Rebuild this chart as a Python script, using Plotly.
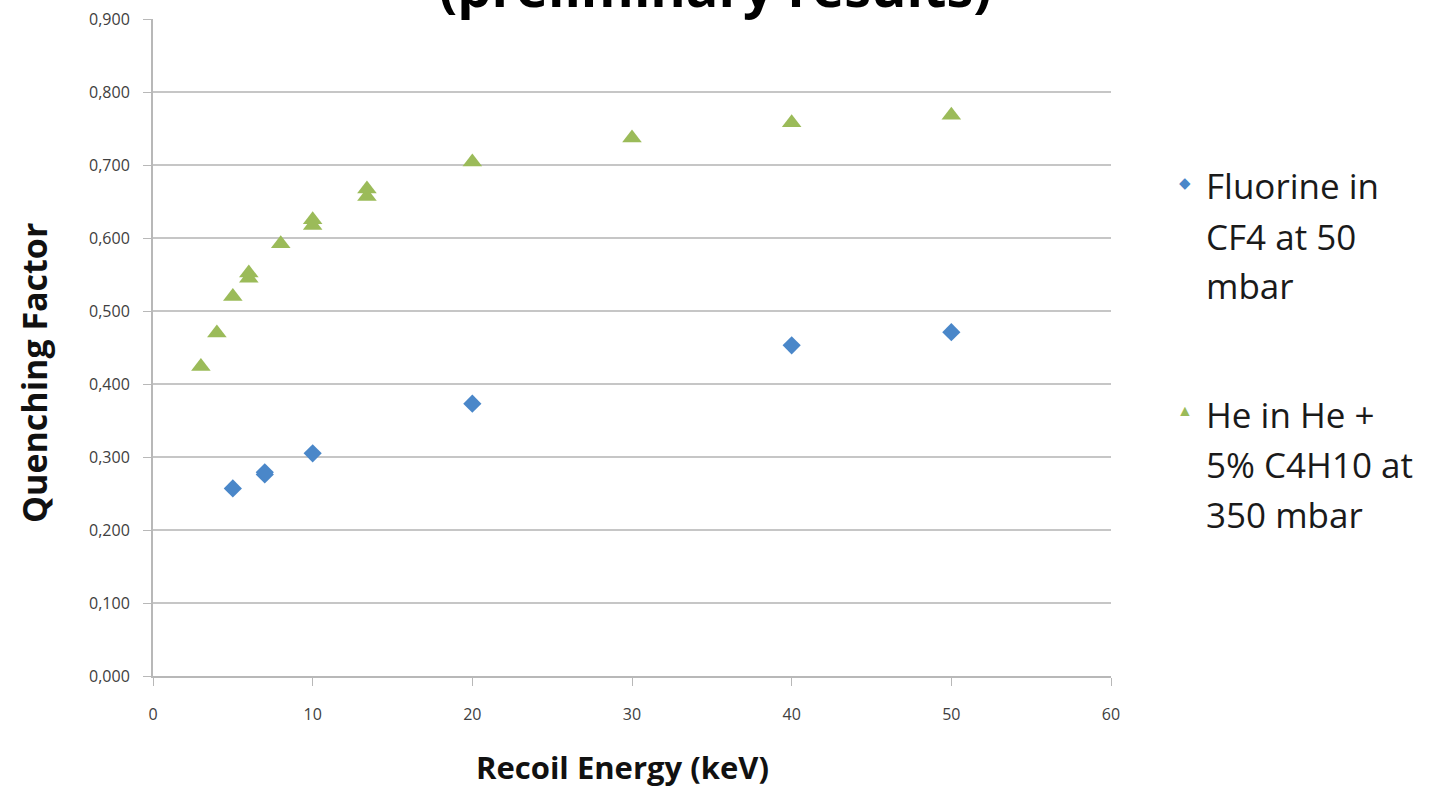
import plotly.graph_objects as go

# Fluorine recoils in CF4 at 50 mbar
f_energy = [5, 7, 7, 10, 20, 40, 50]
f_qf = [0.257, 0.276, 0.279, 0.305, 0.373, 0.453, 0.471]

# Helium recoils in He + 5% C4H10 at 350 mbar
he_energy = [3, 4, 5, 6, 6, 8, 10, 10, 13.4, 13.4, 20, 30, 40, 50]
he_qf = [0.424, 0.470, 0.520, 0.545, 0.552, 0.592, 0.617, 0.625, 0.657, 0.667, 0.704, 0.737, 0.758, 0.768]

x_ticks = [0, 10, 20, 30, 40, 50, 60]
y_ticks = [0.0, 0.1, 0.2, 0.3, 0.4, 0.5, 0.6, 0.7, 0.8, 0.9]
y_ticklabels = [f"{v:.3f}".replace(".", ",") for v in y_ticks]

legend_f = ["Fluorine in", "CF4 at 50", "mbar"]
legend_he = ["He in He +", "5% C4H10 at", "350 mbar"]

BLUE = "#4a87c9"
GREEN = "#9bbb59"
FONT = "Open Sans, Lato, sans-serif"

fig = go.Figure()
fig.add_trace(go.Scatter(
    x=f_energy, y=f_qf, mode="markers", name=" ".join(legend_f),
    marker=dict(symbol="diamond", size=14, color=BLUE, line=dict(width=0)),
))
fig.add_trace(go.Scatter(
    x=he_energy, y=he_qf, mode="markers", name=" ".join(legend_he),
    marker=dict(symbol="triangle-up", size=17, color=GREEN, line=dict(width=0)),
))

axis_common = dict(
    showline=True, linecolor="#b8b8b8", linewidth=2,
    ticks="outside", ticklen=8, tickcolor="#b8b8b8", tickwidth=1,
    tickfont=dict(family=FONT, size=16, color="#404040"),
    zeroline=False, automargin=False,
)
fig.update_xaxes(range=[0, 60], tickvals=x_ticks, showgrid=False, ticklabelstandoff=15, **axis_common)
fig.update_yaxes(range=[0, 0.9], tickvals=y_ticks, ticktext=y_ticklabels,
                 showgrid=True, gridcolor="#c6c6c6", gridwidth=2, ticklabelstandoff=10, **axis_common)

PLOT_TOP, PLOT_H = 19, 657


def ypaper(px):
    return 1 - (px - PLOT_TOP) / PLOT_H


annotations = []
# Legend text, one line per annotation for wide line spacing
for start, lines in ((186, legend_f), (414, legend_he)):
    for i, line in enumerate(lines):
        annotations.append(dict(xref="paper", yref="paper", x=1.0, xshift=93, y=ypaper(start + 50 * i),
                                text=line, showarrow=False, xanchor="left", yanchor="middle",
                                font=dict(family=FONT, size=35, color="#1a1a1a")))
annotations.append(dict(xref="paper", yref="paper", x=1.0, xshift=74, y=ypaper(182),
                        text="◆", showarrow=False, xanchor="center", yanchor="middle",
                        font=dict(size=15, color=BLUE)))
annotations.append(dict(xref="paper", yref="paper", x=1.0, xshift=74, y=ypaper(410),
                        text="▲", showarrow=False, xanchor="center", yanchor="middle",
                        font=dict(size=16, color=GREEN)))
# Axis titles
annotations.append(dict(xref="paper", yref="paper", x=0.49, y=0, yshift=-91,
                        text="<b>Recoil Energy (keV)</b>", showarrow=False, yanchor="middle",
                        font=dict(family=FONT, size=31, color="#111111")))
annotations.append(dict(xref="paper", yref="paper", x=0, xshift=-119, y=ypaper(373),
                        text="<b>Quenching Factor</b>", showarrow=False, textangle=-90,
                        xanchor="center", yanchor="middle",
                        font=dict(family=FONT, size=34, color="#111111")))
# Title (mostly above the page top)
annotations.append(dict(xref="paper", yref="paper", x=0.5, xshift=83, y=1, yshift=-6,
                        text="<b>(preliminary results)</b>", showarrow=False,
                        xanchor="center", yanchor="bottom",
                        font=dict(family=FONT, size=54, color="#000000")))

fig.update_layout(
    width=1438, height=791,
    margin=dict(l=153, r=327, t=19, b=115),
    paper_bgcolor="white", plot_bgcolor="white",
    showlegend=False,
    annotations=annotations,
)

fig.write_html("out.html")
